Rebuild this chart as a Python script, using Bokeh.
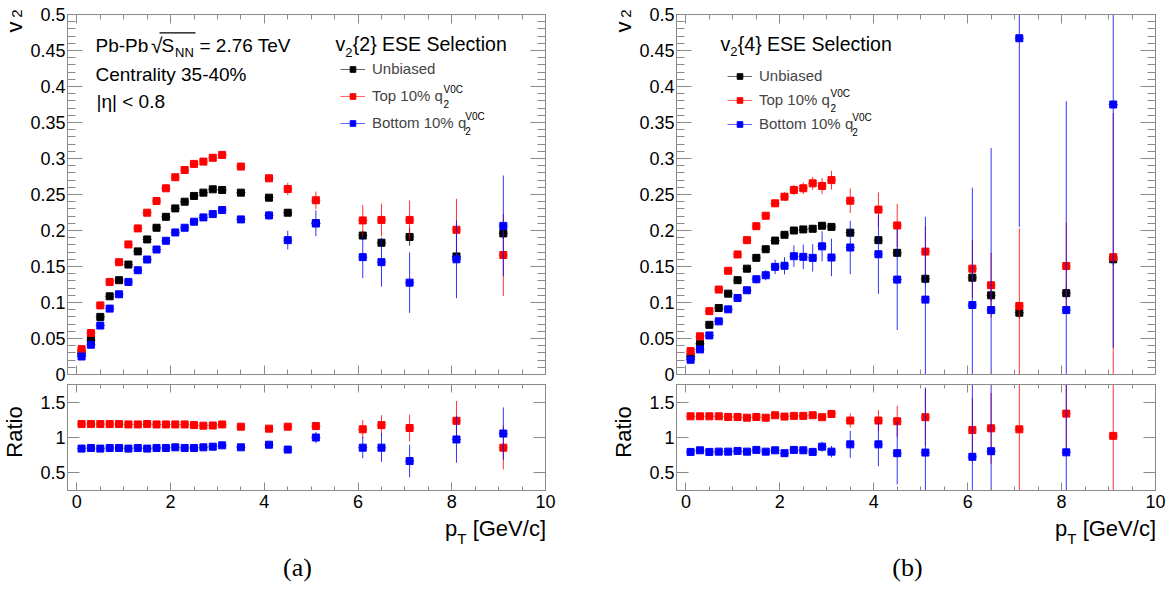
import math
from bokeh.plotting import figure
from bokeh.models import (Range1d, FixedTicker, PrintfTickFormatter, LinearAxis, Label,
                          Legend, LegendItem, ColumnDataSource, BoxAnnotation)
from bokeh.layouts import row, column
from bokeh.embed import file_html
from bokeh.resources import INLINE

# ---------------- data ----------------
pt = [0.1, 0.3, 0.5, 0.7, 0.9, 1.1, 1.3, 1.5, 1.7, 1.9, 2.1, 2.3, 2.5, 2.7, 2.9, 3.1,
      3.5, 4.1, 4.5, 5.1, 6.1, 6.5, 7.1, 8.1, 9.1]
pt_err = [0.1] * 25

# (a) v2{2}
a_unb = [0.0295, 0.048, 0.080, 0.1086, 0.131, 0.1527, 0.171, 0.1876, 0.2038, 0.219, 0.2307, 0.240,
         0.248, 0.2526, 0.2572, 0.2563, 0.2526, 0.2456, 0.2247, 0.210, 0.193, 0.183, 0.191, 0.164, 0.196]
a_top = [0.0352, 0.0576, 0.096, 0.1286, 0.156, 0.1806, 0.2029, 0.2247, 0.241, 0.2586, 0.274, 0.284,
         0.2925, 0.2957, 0.301, 0.305, 0.2888, 0.2725, 0.2577, 0.242, 0.214, 0.2147, 0.2147, 0.201, 0.166]
a_bot = [0.025, 0.0413, 0.068, 0.0915, 0.1114, 0.1286, 0.1448, 0.1597, 0.1736, 0.1857, 0.1973, 0.2038,
         0.2122, 0.2182, 0.2228, 0.2284, 0.2154, 0.221, 0.1866, 0.210, 0.163, 0.156, 0.1276, 0.160, 0.2064]
a_unb_err = [0.001] * 9 + [0.0015, 0.0015, 0.0015, 0.002, 0.002, 0.002, 0.002,
                           0.002, 0.003, 0.004, 0.005, 0.006, 0.006, 0.012, 0.008, 0.008]
a_top_err = [0.001] * 9 + [0.002, 0.002, 0.002, 0.003, 0.003, 0.003, 0.003,
                           0.004, 0.005, 0.0086, 0.012, 0.0215, 0.0225, 0.027, 0.043, 0.057]
a_bot_err = [0.001] * 9 + [0.002, 0.002, 0.002, 0.003, 0.003, 0.003, 0.004,
                           0.004, 0.006, 0.013, 0.018, 0.029, 0.034, 0.042, 0.054, 0.07]
ra_top = [1.19, 1.19, 1.19, 1.19, 1.19, 1.185, 1.185, 1.19, 1.185, 1.185, 1.185, 1.185, 1.176, 1.167,
          1.17, 1.185, 1.153, 1.125, 1.153, 1.162, 1.116, 1.176, 1.134, 1.236, 0.856]
ra_bot = [0.843, 0.852, 0.843, 0.852, 0.852, 0.843, 0.852, 0.843, 0.852, 0.852, 0.861, 0.852, 0.852,
          0.861, 0.87, 0.889, 0.861, 0.898, 0.829, 1.0, 0.856, 0.856, 0.667, 0.972, 1.056]
ra_top_err = [0.005] * 16 + [0.015, 0.02, 0.03, 0.05, 0.13, 0.14, 0.19, 0.28, 0.31]
ra_bot_err = [0.005] * 16 + [0.015, 0.025, 0.035, 0.08, 0.15, 0.2, 0.23, 0.33, 0.37]

# (b) v2{4}
b_unb = [0.025, 0.0427, 0.069, 0.0924, 0.1123, 0.131, 0.147, 0.162, 0.174, 0.186, 0.194, 0.200,
         0.2015, 0.2024, 0.2066, 0.205, 0.197, 0.1866, 0.169, 0.133, 0.1345, 0.110, 0.0858, 0.113, 0.160]
b_top = [0.0325, 0.053, 0.088, 0.118, 0.144, 0.1667, 0.1866, 0.206, 0.2205, 0.2377, 0.247, 0.2563,
         0.2586, 0.2655, 0.2618, 0.270, 0.2414, 0.229, 0.207, 0.1707, 0.147, 0.124, 0.0951, 0.1507, 0.163]
b_bot = [0.0204, 0.0348, 0.0543, 0.0738, 0.0905, 0.1063, 0.117, 0.1323, 0.1379, 0.1495, 0.151, 0.1643,
         0.1634, 0.162, 0.178, 0.1625, 0.1764, 0.167, 0.1318, 0.104, 0.0965, 0.0895, 0.467, 0.0895, 0.375]
b_unb_err = [0.001] * 10 + [0.002, 0.002, 0.002, 0.003, 0.003, 0.003, 0.004, 0.005, 0.006,
                            0.008, 0.008, 0.008, 0.008, 0.008, 0.008]
b_top_err = [0.002, 0.002, 0.002, 0.002, 0.003, 0.003, 0.003, 0.004, 0.004, 0.005, 0.006, 0.007,
             0.008, 0.009, 0.011, 0.013, 0.017, 0.024, 0.03, 0.035, 0.04, 0.045, 0.108, 0.06, 0.2]
b_bot_err = [0.002, 0.002, 0.003, 0.003, 0.003, 0.004, 0.005, 0.006, 0.007, 0.01, 0.012, 0.015,
             0.017, 0.019, 0.021, 0.026, 0.037, 0.055, 0.07, 0.115, 0.163, 0.225, 0.262, 0.29, 0.338]
rb_top = [1.30, 1.30, 1.30, 1.30, 1.29, 1.29, 1.28, 1.29, 1.28, 1.315, 1.296, 1.306, 1.306, 1.315,
          1.287, 1.333, 1.24, 1.24, 1.23, 1.287, 1.106, 1.13, 1.116, 1.338, 1.023]
rb_bot = [0.796, 0.819, 0.796, 0.80, 0.80, 0.81, 0.80, 0.824, 0.80, 0.819, 0.778, 0.824, 0.819,
          0.796, 0.87, 0.80, 0.903, 0.903, 0.778, 0.787, 0.727, 0.806, 5.44, 0.79, 2.34]
rb_top_err = [0.01, 0.01, 0.01, 0.012, 0.012, 0.013, 0.014, 0.015, 0.016, 0.018, 0.02, 0.022, 0.025,
              0.028, 0.04, 0.05, 0.1, 0.15, 0.22, 0.4, 0.45, 0.5, 1.3, 0.6, 1.3]
rb_bot_err = [0.03, 0.03, 0.03, 0.03, 0.03, 0.03, 0.03, 0.035, 0.035, 0.04, 0.045, 0.05, 0.05, 0.06,
              0.07, 0.08, 0.19, 0.31, 0.44, 0.92, 1.5, 2.0, 1.0, 3.0, 0.5]

X_RANGE = (-0.2, 10.0)
X_TICKS = [0, 2, 4, 6, 8, 10]
X_MINOR = [0.5 * i for i in range(21)]
V2_RANGE = (0.0, 0.5)
V2_TICKS = [0, 0.05, 0.1, 0.15, 0.2, 0.25, 0.3, 0.35, 0.4, 0.45, 0.5]
V2_MINOR = [round(0.01 * i, 2) for i in range(51)]
R_RANGE = (0.25, 1.75)
R_TICKS = [0.5, 1, 1.5]
R_MINOR = []

SERIES_NAMES = ["Unbiased", "Top 10% q", "Bottom 10% q"]
COLORS = ["black", "#ff0000", "#0000ff"]

# ---------------- style helpers ----------------
FONT = "Liberation Sans"
GRAY = "#8a8a8a"
HW = {' ': 278, '%': 889, '(': 333, ')': 333, '-': 333, '.': 278, '/': 278, '=': 584, '<': 584,
      'B': 667, 'C': 722, 'E': 667, 'G': 778, 'N': 722, 'P': 667, 'S': 667, 'T': 611, 'U': 722,
      'V': 667, '[': 278, ']': 278, 'a': 556, 'b': 556, 'c': 500, 'd': 556, 'e': 556, 'i': 222,
      'l': 222, 'm': 833, 'n': 556, 'o': 556, 'p': 556, 'q': 556, 'r': 333, 's': 500, 't': 278,
      'u': 556, 'v': 500, 'y': 500, '{': 334, '}': 334, '|': 260}


def tw(s, size):
    return sum(HW.get(c, 556) for c in s) / 1000.0 * size


def txt(p, text, x, y, size, align="left", baseline="middle", angle=0.0, font=FONT):
    p.add_layout(Label(x=x, y=y, x_units="canvas", y_units="canvas", text=text,
                       text_font=font, text_font_size=f"{size}px", text_align=align,
                       text_baseline=baseline, angle=angle, text_color="black"))


def configure(ax, major_in, minor_in, labels, standoff):
    ax.axis_line_color = GRAY
    ax.major_tick_line_color = GRAY
    ax.minor_tick_line_color = GRAY
    ax.major_tick_in = major_in
    ax.major_tick_out = 0
    ax.minor_tick_in = minor_in
    ax.minor_tick_out = 0
    ax.major_label_text_font = FONT
    ax.axis_label = None
    if labels:
        ax.major_label_text_color = "black"
        ax.major_label_text_font_size = "18px"
        ax.major_label_standoff = standoff
    else:
        ax.major_label_text_color = None
        ax.major_label_text_font_size = "1px"
        ax.major_label_standoff = 0


def make_panel(width, height, borders, y_range, y_ticks, y_minor, y_in, x_in, x_labels):
    l, r, t, b = borders
    p = figure(width=width, height=height, x_range=Range1d(*X_RANGE), y_range=Range1d(*y_range),
               output_backend="svg", toolbar_location=None,
               min_border_left=l, min_border_right=r, min_border_top=t, min_border_bottom=b)
    p.grid.visible = False
    p.outline_line_color = GRAY
    p.background_fill_color = "white"
    p.border_fill_color = "white"
    fmt = PrintfTickFormatter(format="%g")
    xt = FixedTicker(ticks=X_TICKS, minor_ticks=X_MINOR)
    yt = FixedTicker(ticks=y_ticks, minor_ticks=y_minor)
    p.xaxis.ticker = xt
    p.xaxis.formatter = fmt
    configure(p.xaxis[0], x_in[0], x_in[1], x_labels, 4)
    p.yaxis.ticker = yt
    p.yaxis.formatter = fmt
    configure(p.yaxis[0], y_in[0], y_in[1], True, 2)
    top = LinearAxis(ticker=xt, formatter=fmt)
    configure(top, x_in[0], x_in[1], False, 0)
    p.add_layout(top, "above")
    right = LinearAxis(ticker=yt, formatter=fmt)
    configure(right, y_in[0], y_in[1], False, 0)
    p.add_layout(right, "right")
    return p


def text_strip(width, height):
    p = figure(width=width, height=height, x_range=Range1d(0, width), y_range=Range1d(0, height),
               output_backend="svg", toolbar_location=None, x_axis_type=None, y_axis_type=None,
               min_border_left=0, min_border_right=0, min_border_top=0, min_border_bottom=0)
    p.outline_line_color = None
    p.background_fill_color = "white"
    p.border_fill_color = "white"
    return p


def draw_series(p, y, err, color):
    src = ColumnDataSource(dict(
        x=pt, y=y,
        lo=[v - e for v, e in zip(y, err)], hi=[v + e for v, e in zip(y, err)],
        xl=[x - e for x, e in zip(pt, pt_err)], xr=[x + e for x, e in zip(pt, pt_err)]))
    p.segment(x0="x", y0="lo", x1="x", y1="hi", source=src, line_color=color,
              line_width=1, line_alpha=0.8)
    h = p.segment(x0="xl", y0="y", x1="xr", y1="y", source=src, line_color=color,
                  line_width=1, line_alpha=0.6)
    m = p.scatter(x="x", y="y", source=src, marker="square", size=7,
                  fill_color=color, line_color=color)
    return [h, m]


# geometry (pixels)
STRIP_W = 27
MAIN_H, RATIO_H = 384, 130
TOTAL_H = 608
BOT_H = TOTAL_H - MAIN_H - RATIO_H
COL_W = {"a": 582, "b": 535}
COL_X = {"a": 27, "b": 636}
LEFT_B = 38
RIGHT_B = {"a": 64, "b": 16}


def build(key, main_series, ratio_series, title_digit, legend_pos, legend_spacing,
          label_text, title_left, label_x):
    width, lb, rb_ = COL_W[key], LEFT_B, RIGHT_B[key]
    ox = COL_X[key]
    main = make_panel(width, MAIN_H, (lb, rb_, 14, 10), V2_RANGE, V2_TICKS, V2_MINOR,
                      (15, 8), (9, 5), False)
    rends = [draw_series(main, y, e, c) for (y, e), c in zip(main_series, COLORS)]
    legend = Legend(items=[LegendItem(label=n, renderers=r) for n, r in zip(SERIES_NAMES, rends)],
                    location=legend_pos, glyph_width=25, glyph_height=14, label_height=14,
                    label_standoff=7, spacing=legend_spacing, padding=0, margin=0,
                    border_line_color=None, background_fill_alpha=0,
                    label_text_font=FONT, label_text_font_size="15px")
    main.add_layout(legend)
    # sub/superscripts of q_2^{V0C}
    item_h = 17.0
    frame_bottom = 14 + 360
    top_y = frame_bottom - legend_pos[1] - 3 * item_h - 2 * legend_spacing
    text_x = lb + legend_pos[0] + 25 + 7
    for k in (1, 2):
        cy = top_y + k * (item_h + legend_spacing) + item_h / 2
        qx = text_x + tw(SERIES_NAMES[k], 15) + 0.5
        txt(main, "V0C", qx, cy - 7, 10)
        txt(main, "2", qx, cy + 7.5, 10)
    # title v2{n} ESE Selection
    tx, ty = title_left[0] - ox, title_left[1]
    txt(main, "v", tx, ty, 19.5)
    txt(main, "2", tx + tw("v", 19.5), ty + 8.2, 13)
    txt(main, "{" + title_digit + "} ESE Selection", tx + tw("v", 19.5) + tw("2", 13) + 0.3, ty, 19.5)

    ratio = make_panel(width, RATIO_H, (lb, rb_, 0, 24), R_RANGE, R_TICKS, R_MINOR,
                       (12, 6), (8, 4), True)
    for (y, e), c in zip(ratio_series, COLORS[1:]):
        draw_series(ratio, y, e, c)

    bottom = text_strip(width, BOT_H)
    fr = width - rb_ + 0.5
    txt(bottom, "[GeV/c]", fr, 14, 22, align="right")
    tx2 = fr - tw("[GeV/c]", 22) - tw(" ", 22)
    txt(bottom, "T", tx2, 24, 15, align="right")
    txt(bottom, "p", tx2 - tw("T", 15), 14, 22, align="right")
    txt(bottom, label_text, label_x - ox, 53, 26, align="center", font="Liberation Serif")
    return main, ratio, bottom


def side_strip(v_x, ratio_x):
    s = text_strip(STRIP_W, TOTAL_H)
    txt(s, "v", v_x, 26.5, 22, align="center", angle=math.pi / 2)
    txt(s, "2", v_x + 3, 13, 15, align="center", angle=math.pi / 2)
    txt(s, "Ratio", ratio_x, 431.5, 22, align="center", angle=math.pi / 2)
    return s


ma, ra, ba = build("a",
                   [(a_unb, a_unb_err), (a_top, a_top_err), (a_bot, a_bot_err)],
                   [(ra_top, ra_top_err), (ra_bot, ra_bot_err)],
                   "2", (273, 243), 10, "(a)", (335, 43.5), 297)
# panel (a) collision-system text (canvas x = page x - column offset)
OX = COL_X["a"]
txt(ma, "Pb-Pb", 95 - OX, 45, 19)
txt(ma, "\u221a", 150.5 - OX, 45, 21)
txt(ma, "S", 161 - OX, 45, 19)
txt(ma, "NN", 174.5 - OX, 51.5, 13)
txt(ma, "= 2.76 TeV", 199 - OX, 45, 19)
ma.add_layout(BoxAnnotation(left=159 - OX, right=195 - OX, top=31.8, bottom=33.0,
                            left_units="canvas", right_units="canvas",
                            top_units="canvas", bottom_units="canvas",
                            fill_color="black", fill_alpha=1, line_color=None))
txt(ma, "Centrality 35-40%", 95 - OX, 74, 19)
txt(ma, "|\u03b7| < 0.8", 96 - OX, 100.5, 19)

mb, rb, bb = build("b",
                   [(b_unb, b_unb_err), (b_top, b_top_err), (b_bot, b_bot_err)],
                   [(rb_top, rb_top_err), (rb_bot, rb_bot_err)],
                   "4", (51, 242), 7, "(b)", (720, 43), 907)

strip_a = side_strip(13.5, 14.2)
strip_b = side_strip(13.8, 14.2)

layout = row(strip_a, column(ma, ra, ba), strip_b, column(mb, rb, bb))
open("out.html", "w").write(file_html(layout, INLINE))
